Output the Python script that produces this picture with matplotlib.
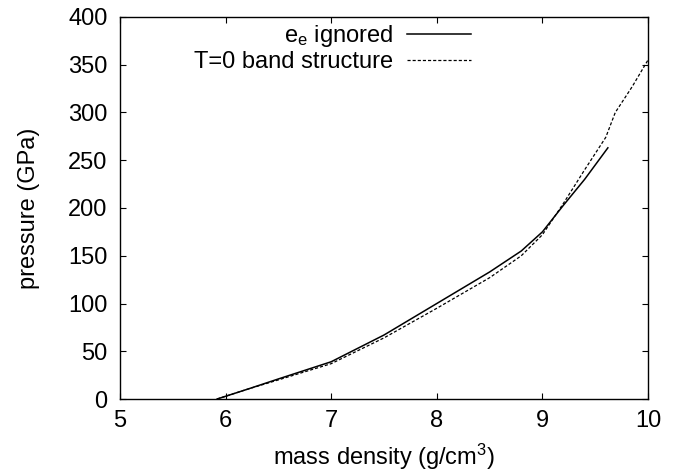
import matplotlib
matplotlib.use("Agg")
import matplotlib.pyplot as plt

plt.rcParams['font.family'] = ['Liberation Sans', 'DejaVu Sans']
plt.rcParams['mathtext.fontset'] = 'custom'
plt.rcParams['mathtext.rm'] = 'Liberation Sans'
plt.rcParams['mathtext.it'] = 'Liberation Sans'

# e_e ignored
dens_ign = [5.92, 6.2, 6.5, 7.0, 7.5, 8.0, 8.5, 8.8, 9.0, 9.2, 9.4, 9.62]
pres_ign = [0, 10, 21, 39, 67, 100, 133, 155, 175, 203, 230, 263]

# T=0 band structure
dens_band = [5.92, 6.2, 6.5, 7.0, 7.5, 8.0, 8.5, 8.8, 9.0, 9.2, 9.4, 9.6, 9.69, 9.85, 10.0]
pres_band = [0, 10, 20, 37, 64, 95, 127, 150, 172, 205, 240, 274, 300, 327, 355]

xticks = [5, 6, 7, 8, 9, 10]
yticks = [0, 50, 100, 150, 200, 250, 300, 350, 400]

FS = 17
fig = plt.figure(figsize=(6.8, 4.74), dpi=100)
ax = fig.add_axes([120/680, 75/474, 528/680, 382/474])

ax.plot(dens_ign, pres_ign, color='black', lw=1.1, label=r'e$_\mathregular{e}$ ignored')
ax.plot(dens_band, pres_band, color='black', lw=0.9, dashes=(2.5, 1.6), label='T=0 band structure')

ax.set_xlim(5, 10)
ax.set_ylim(0, 400)
ax.set_xticks(xticks)
ax.set_yticks(yticks)
ax.tick_params(direction='in', length=4.5, width=0.8, top=True, right=True, labelsize=FS)
ax.tick_params(axis='x', pad=8)
ax.tick_params(axis='y', pad=9)
for s in ax.spines.values():
    s.set_linewidth(1.0)

ax.set_xlabel(r'mass density (g/cm$^\mathregular{3}$)', fontsize=FS, labelpad=7)
ax.set_ylabel('pressure (GPa)', fontsize=FS, labelpad=20)

leg = ax.legend(loc='upper right', bbox_to_anchor=((471-120)/528, (399-23)/382),
                frameon=False, markerfirst=False, fontsize=FS, handlelength=2.7,
                handletextpad=0.6, borderpad=0, borderaxespad=0, labelspacing=0.1)

fig.savefig('out.png', dpi=100)
